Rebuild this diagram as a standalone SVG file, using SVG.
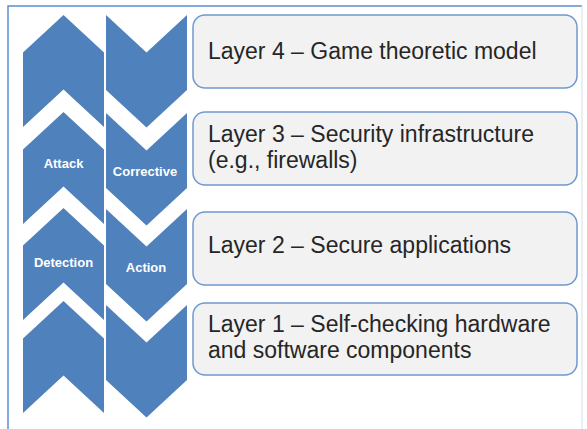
<svg xmlns="http://www.w3.org/2000/svg" width="587" height="429" viewBox="0 0 587 429">
  <style>
    .chev { fill: #4f81bd; }
    .chev-label { font-family: "Liberation Sans", Arial, sans-serif; font-weight: bold; font-size: 13px; fill: #ffffff; text-anchor: middle; }
    .layer-box { fill: #f2f2f2; stroke: #6f98d0; stroke-width: 1.5; }
    .layer-text { font-family: "Liberation Sans", Arial, sans-serif; font-size: 23px; fill: #262626; }
  </style>
  <defs>
    <!-- upward chevron, 81 wide, 112 tall, apex at origin centre -->
    <polygon id="chev-up" points="40.5,0 81,37.5 81,112 40.5,74.5 0,112 0,37.5"/>
    <!-- downward chevron, 81 wide, 112.5 tall -->
    <polygon id="chev-down" points="0,0 40.5,37.5 81,0 81,75 40.5,112.5 0,75"/>
  </defs>

  <rect width="587" height="429" fill="#ffffff"/>

  <!-- outer frame (open at the bottom edge) -->
  <path d="M8,429 V6 H582" fill="none" stroke="#5b8fce" stroke-width="1.5"/>
  <path d="M582,6 V429" fill="none" stroke="#dde3ea" stroke-width="1.2"/>

  <!-- attack / detection column -->
  <g id="attack-detection-column">
    <use href="#chev-up" class="chev" x="23" y="15"/>
    <g id="attack">
      <use href="#chev-up" class="chev" x="23" y="112"/>
      <text class="chev-label" x="63.5" y="167.5">Attack</text>
    </g>
    <g id="detection">
      <use href="#chev-up" class="chev" x="23" y="208"/>
      <text class="chev-label" x="63.5" y="266.5">Detection</text>
    </g>
    <use href="#chev-up" class="chev" x="23" y="301"/>
  </g>

  <!-- corrective / action column -->
  <g id="corrective-action-column">
    <use href="#chev-down" class="chev" x="106" y="15"/>
    <g id="corrective">
      <use href="#chev-down" class="chev" x="106" y="113"/>
      <text class="chev-label" x="145" y="175.5">Corrective</text>
    </g>
    <g id="action">
      <use href="#chev-down" class="chev" x="106" y="209"/>
      <text class="chev-label" x="146" y="271.5">Action</text>
    </g>
    <use href="#chev-down" class="chev" x="106" y="305"/>
  </g>

  <!-- layer boxes -->
  <g id="layer4">
    <rect class="layer-box" x="193" y="15" width="384" height="73" rx="12"/>
    <text class="layer-text" x="208" y="59">Layer 4 – Game theoretic model</text>
  </g>
  <g id="layer3">
    <rect class="layer-box" x="193" y="112" width="384" height="73" rx="12"/>
    <text class="layer-text" x="208" y="142">Layer 3 – Security infrastructure</text>
    <text class="layer-text" x="208" y="168">(e.g., firewalls)</text>
  </g>
  <g id="layer2">
    <rect class="layer-box" x="193" y="212" width="384" height="73" rx="12"/>
    <text class="layer-text" x="208" y="253">Layer 2 – Secure applications</text>
  </g>
  <g id="layer1">
    <rect class="layer-box" x="193" y="303" width="384" height="72" rx="12"/>
    <text class="layer-text" x="208" y="332">Layer 1 – Self-checking hardware</text>
    <text class="layer-text" x="208" y="358">and software components</text>
  </g>
</svg>
